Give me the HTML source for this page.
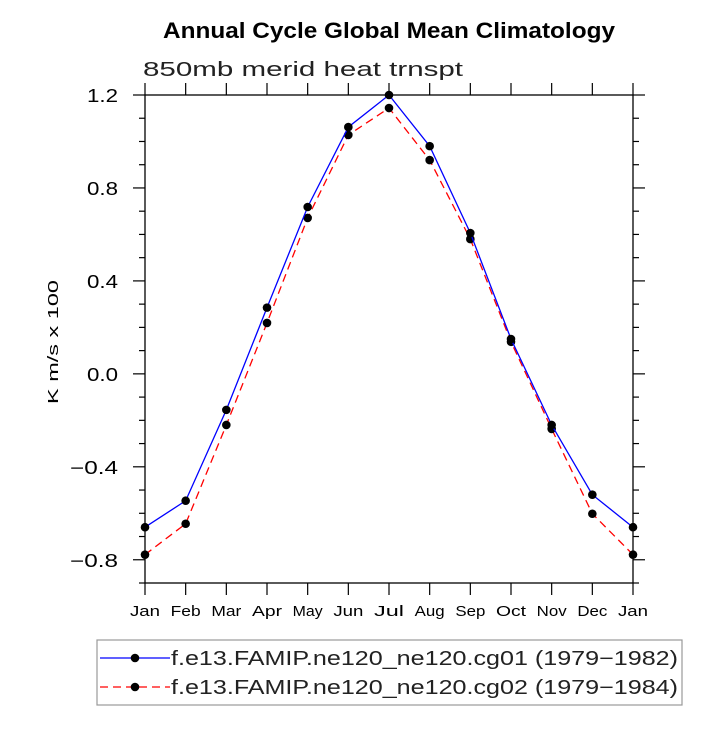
<!DOCTYPE html>
<html><head><meta charset="utf-8"><style>
body{margin:0;background:#fff}
svg text{font-family:"Liberation Sans","DejaVu Sans",sans-serif}
</style></head><body>
<svg id="chart" width="725" height="725" xmlns="http://www.w3.org/2000/svg">
<text x="163" y="38" font-size="22" font-weight="bold" textLength="452" lengthAdjust="spacingAndGlyphs">Annual Cycle Global Mean Climatology</text>
<text x="143" y="76" font-size="20" fill="#222" textLength="320" lengthAdjust="spacingAndGlyphs">850mb merid heat trnspt</text>
<text transform="translate(58,342) rotate(-90)" text-anchor="middle" font-size="15" textLength="124" lengthAdjust="spacingAndGlyphs">K m/s x 100</text>
<g id="axes"></g>
<g id="series"></g>
<g id="legend">
<rect x="97" y="640" width="585" height="65" fill="none" stroke="#999" stroke-width="1.2"/>
</g>
</svg>
<script>
const months=["Jan","Feb","Mar","Apr","May","Jun","Jul","Aug","Sep","Oct","Nov","Dec","Jan"];
const seriesCg01=[-0.66,-0.546,-0.155,0.285,0.718,1.062,1.2,0.98,0.606,0.15,-0.22,-0.52,-0.66];
const seriesCg02=[-0.778,-0.645,-0.22,0.219,0.671,1.028,1.144,0.92,0.58,0.138,-0.237,-0.602,-0.778];
const yTickLabels=["1.2","0.8","0.4","0.0","\u22120.4","\u22120.8"];
const yTickValues=[1.2,0.8,0.4,0.0,-0.4,-0.8];
const legendLabels=["f.e13.FAMIP.ne120_ne120.cg01 (1979\u22121982)","f.e13.FAMIP.ne120_ne120.cg02 (1979\u22121984)"];
const L=145,R=633,T=95,B=583,yMin=-0.9,yMax=1.2;
const NS="http://www.w3.org/2000/svg";
function X(i){return L+(R-L)*i/(months.length-1);}
function Y(v){return B-(v-yMin)/(yMax-yMin)*(B-T);}
function mk(tag,attrs,parent){const e=document.createElementNS(NS,tag);for(const k in attrs)e.setAttribute(k,attrs[k]);parent.appendChild(e);return e;}
const ax=document.getElementById('axes');
const frame=mk('rect',{x:L,y:T,width:R-L,height:B-T,fill:'none',stroke:'#000','stroke-width':1.3},ax);


months.forEach((m,i)=>{
  const x=X(i);
  mk('line',{x1:x,x2:x,y1:B,y2:B+12,stroke:'#000','stroke-width':1.2},ax);
  mk('line',{x1:x,x2:x,y1:T,y2:T-12,stroke:'#000','stroke-width':1.2},ax);
  const t=mk('text',{x:x,y:B+33,'text-anchor':'middle','font-size':15,textLength:m.length*10,lengthAdjust:'spacingAndGlyphs'},ax);
  t.textContent=m;
  
  
});
for(let k=-9;k<=12;k++){
  const v=k/10,y=Y(v);
  const major=(k%4===0);
  const len=major?12:6;
  mk('line',{x1:L-len,x2:L,y1:y,y2:y,stroke:'#000','stroke-width':1.2},ax);
  mk('line',{x1:R,x2:R+len,y1:y,y2:y,stroke:'#000','stroke-width':1.2},ax);
}
yTickValues.forEach((v,i)=>{
  const lab=yTickLabels[i];
  const t=mk('text',{x:L-27,y:Y(v)+7,'text-anchor':'end','font-size':18,textLength:lab.length===3?31:48,lengthAdjust:'spacingAndGlyphs'},ax);
  t.textContent=lab;
  
  
});
const sg=document.getElementById('series');
function draw(data,color,dash,name){
  const pts=data.map((v,i)=>X(i)+','+Y(v)).join(' ');
  const pl=mk('polyline',{points:pts,fill:'none',stroke:color,'stroke-width':1.3,'stroke-dasharray':dash},sg);
  
  
  data.forEach((v,i)=>{
    const c=mk('circle',{cx:X(i),cy:Y(v),r:4.3,fill:'#000'},sg);
    
    
  });
}
draw(seriesCg02,'#f00','8,5','series-cg02');
draw(seriesCg01,'#00f','none','series-cg01');
const lg=document.getElementById('legend');
[['#00f','none',658],['#f00','8,5',687]].forEach((s,i)=>{
  const ln=mk('line',{x1:100,x2:170,y1:s[2],y2:s[2],stroke:s[0],'stroke-width':1.3,'stroke-dasharray':s[1]},lg);
  
  
  mk('circle',{cx:135,cy:s[2],r:4.3,fill:'#000'},lg);
  const t=mk('text',{x:171,y:s[2]+7,'font-size':20,fill:'#222',textLength:507,lengthAdjust:'spacingAndGlyphs'},lg);
  t.textContent=legendLabels[i];
  
  
});
</script>
</body></html>
